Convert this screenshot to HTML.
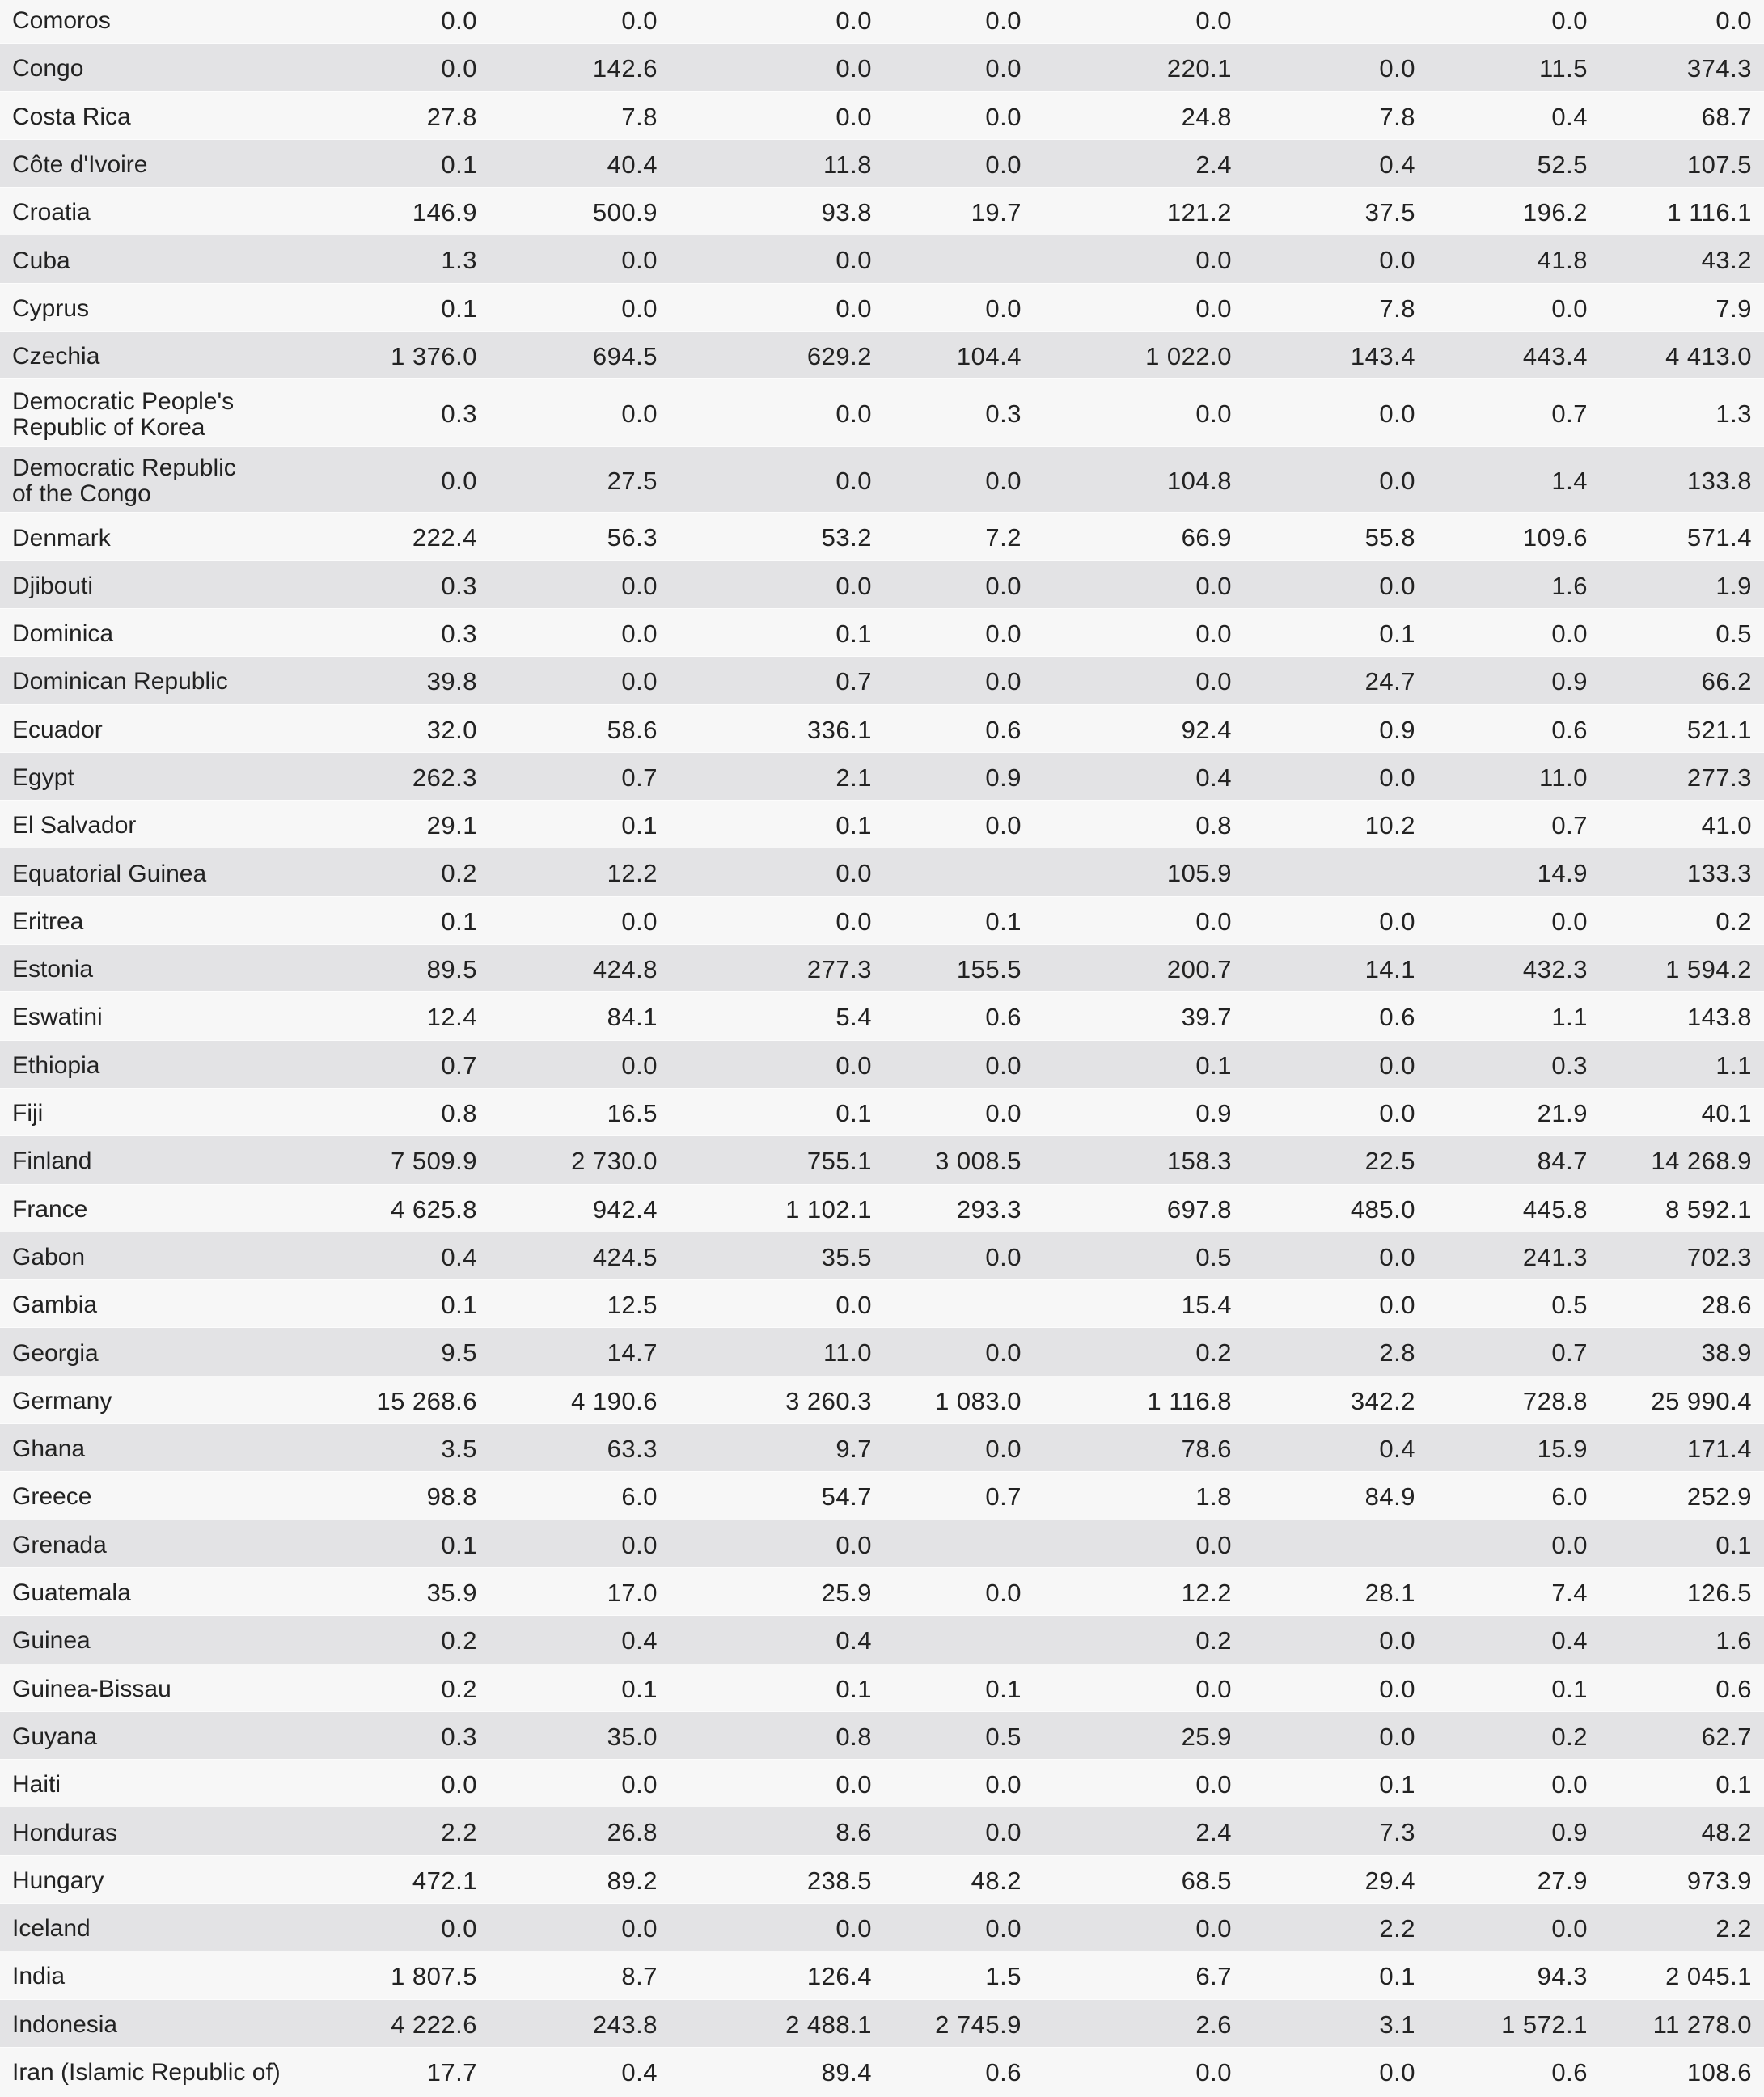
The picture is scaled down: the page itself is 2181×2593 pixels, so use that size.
<!DOCTYPE html>
<html>
<head>
<meta charset="utf-8">
<style>
html,body{margin:0;padding:0}
body{width:2181px;height:2593px;overflow:hidden;background:#f7f7f7;font-family:"Liberation Sans",sans-serif;color:#222;position:relative}
.t{position:absolute;top:-6px;left:0;width:2181px}
.r{position:relative;height:59.3px;background:#f7f7f7;box-shadow:inset 0 1px 0 #fcfcfc}
.d{background:#e3e3e5}
.r2{height:84px}
.r3{height:81px}
.n{position:absolute;left:15px;top:0;bottom:0;display:flex;align-items:center;font-size:30px;line-height:32px;padding-top:5px;white-space:nowrap}
.r span{position:absolute;top:2px;line-height:59.3px;font-size:31px;letter-spacing:0.5px;white-space:nowrap}
.r2 span{line-height:84px}
.r3 span{line-height:81px}
.r span:nth-of-type(1){right:1591px}
.r span:nth-of-type(2){right:1368px}
.r span:nth-of-type(3){right:1103px}
.r span:nth-of-type(4){right:918px}
.r span:nth-of-type(5){right:658px}
.r span:nth-of-type(6){right:431px}
.r span:nth-of-type(7){right:218px}
.r span:nth-of-type(8){right:15px}
</style>
</head>
<body>
<div class="t">
<div class="r"><div class="n">Comoros</div><span>0.0</span><span>0.0</span><span>0.0</span><span>0.0</span><span>0.0</span><span></span><span>0.0</span><span>0.0</span></div>
<div class="r d"><div class="n">Congo</div><span>0.0</span><span>142.6</span><span>0.0</span><span>0.0</span><span>220.1</span><span>0.0</span><span>11.5</span><span>374.3</span></div>
<div class="r"><div class="n">Costa Rica</div><span>27.8</span><span>7.8</span><span>0.0</span><span>0.0</span><span>24.8</span><span>7.8</span><span>0.4</span><span>68.7</span></div>
<div class="r d"><div class="n">Côte d'Ivoire</div><span>0.1</span><span>40.4</span><span>11.8</span><span>0.0</span><span>2.4</span><span>0.4</span><span>52.5</span><span>107.5</span></div>
<div class="r"><div class="n">Croatia</div><span>146.9</span><span>500.9</span><span>93.8</span><span>19.7</span><span>121.2</span><span>37.5</span><span>196.2</span><span>1 116.1</span></div>
<div class="r d"><div class="n">Cuba</div><span>1.3</span><span>0.0</span><span>0.0</span><span></span><span>0.0</span><span>0.0</span><span>41.8</span><span>43.2</span></div>
<div class="r"><div class="n">Cyprus</div><span>0.1</span><span>0.0</span><span>0.0</span><span>0.0</span><span>0.0</span><span>7.8</span><span>0.0</span><span>7.9</span></div>
<div class="r d"><div class="n">Czechia</div><span>1 376.0</span><span>694.5</span><span>629.2</span><span>104.4</span><span>1 022.0</span><span>143.4</span><span>443.4</span><span>4 413.0</span></div>
<div class="r r2"><div class="n">Democratic People's<br>Republic of Korea</div><span>0.3</span><span>0.0</span><span>0.0</span><span>0.3</span><span>0.0</span><span>0.0</span><span>0.7</span><span>1.3</span></div>
<div class="r r3 d"><div class="n">Democratic Republic<br>of the Congo</div><span>0.0</span><span>27.5</span><span>0.0</span><span>0.0</span><span>104.8</span><span>0.0</span><span>1.4</span><span>133.8</span></div>
<div class="r"><div class="n">Denmark</div><span>222.4</span><span>56.3</span><span>53.2</span><span>7.2</span><span>66.9</span><span>55.8</span><span>109.6</span><span>571.4</span></div>
<div class="r d"><div class="n">Djibouti</div><span>0.3</span><span>0.0</span><span>0.0</span><span>0.0</span><span>0.0</span><span>0.0</span><span>1.6</span><span>1.9</span></div>
<div class="r"><div class="n">Dominica</div><span>0.3</span><span>0.0</span><span>0.1</span><span>0.0</span><span>0.0</span><span>0.1</span><span>0.0</span><span>0.5</span></div>
<div class="r d"><div class="n">Dominican Republic</div><span>39.8</span><span>0.0</span><span>0.7</span><span>0.0</span><span>0.0</span><span>24.7</span><span>0.9</span><span>66.2</span></div>
<div class="r"><div class="n">Ecuador</div><span>32.0</span><span>58.6</span><span>336.1</span><span>0.6</span><span>92.4</span><span>0.9</span><span>0.6</span><span>521.1</span></div>
<div class="r d"><div class="n">Egypt</div><span>262.3</span><span>0.7</span><span>2.1</span><span>0.9</span><span>0.4</span><span>0.0</span><span>11.0</span><span>277.3</span></div>
<div class="r"><div class="n">El Salvador</div><span>29.1</span><span>0.1</span><span>0.1</span><span>0.0</span><span>0.8</span><span>10.2</span><span>0.7</span><span>41.0</span></div>
<div class="r d"><div class="n">Equatorial Guinea</div><span>0.2</span><span>12.2</span><span>0.0</span><span></span><span>105.9</span><span></span><span>14.9</span><span>133.3</span></div>
<div class="r"><div class="n">Eritrea</div><span>0.1</span><span>0.0</span><span>0.0</span><span>0.1</span><span>0.0</span><span>0.0</span><span>0.0</span><span>0.2</span></div>
<div class="r d"><div class="n">Estonia</div><span>89.5</span><span>424.8</span><span>277.3</span><span>155.5</span><span>200.7</span><span>14.1</span><span>432.3</span><span>1 594.2</span></div>
<div class="r"><div class="n">Eswatini</div><span>12.4</span><span>84.1</span><span>5.4</span><span>0.6</span><span>39.7</span><span>0.6</span><span>1.1</span><span>143.8</span></div>
<div class="r d"><div class="n">Ethiopia</div><span>0.7</span><span>0.0</span><span>0.0</span><span>0.0</span><span>0.1</span><span>0.0</span><span>0.3</span><span>1.1</span></div>
<div class="r"><div class="n">Fiji</div><span>0.8</span><span>16.5</span><span>0.1</span><span>0.0</span><span>0.9</span><span>0.0</span><span>21.9</span><span>40.1</span></div>
<div class="r d"><div class="n">Finland</div><span>7 509.9</span><span>2 730.0</span><span>755.1</span><span>3 008.5</span><span>158.3</span><span>22.5</span><span>84.7</span><span>14 268.9</span></div>
<div class="r"><div class="n">France</div><span>4 625.8</span><span>942.4</span><span>1 102.1</span><span>293.3</span><span>697.8</span><span>485.0</span><span>445.8</span><span>8 592.1</span></div>
<div class="r d"><div class="n">Gabon</div><span>0.4</span><span>424.5</span><span>35.5</span><span>0.0</span><span>0.5</span><span>0.0</span><span>241.3</span><span>702.3</span></div>
<div class="r"><div class="n">Gambia</div><span>0.1</span><span>12.5</span><span>0.0</span><span></span><span>15.4</span><span>0.0</span><span>0.5</span><span>28.6</span></div>
<div class="r d"><div class="n">Georgia</div><span>9.5</span><span>14.7</span><span>11.0</span><span>0.0</span><span>0.2</span><span>2.8</span><span>0.7</span><span>38.9</span></div>
<div class="r"><div class="n">Germany</div><span>15 268.6</span><span>4 190.6</span><span>3 260.3</span><span>1 083.0</span><span>1 116.8</span><span>342.2</span><span>728.8</span><span>25 990.4</span></div>
<div class="r d"><div class="n">Ghana</div><span>3.5</span><span>63.3</span><span>9.7</span><span>0.0</span><span>78.6</span><span>0.4</span><span>15.9</span><span>171.4</span></div>
<div class="r"><div class="n">Greece</div><span>98.8</span><span>6.0</span><span>54.7</span><span>0.7</span><span>1.8</span><span>84.9</span><span>6.0</span><span>252.9</span></div>
<div class="r d"><div class="n">Grenada</div><span>0.1</span><span>0.0</span><span>0.0</span><span></span><span>0.0</span><span></span><span>0.0</span><span>0.1</span></div>
<div class="r"><div class="n">Guatemala</div><span>35.9</span><span>17.0</span><span>25.9</span><span>0.0</span><span>12.2</span><span>28.1</span><span>7.4</span><span>126.5</span></div>
<div class="r d"><div class="n">Guinea</div><span>0.2</span><span>0.4</span><span>0.4</span><span></span><span>0.2</span><span>0.0</span><span>0.4</span><span>1.6</span></div>
<div class="r"><div class="n">Guinea-Bissau</div><span>0.2</span><span>0.1</span><span>0.1</span><span>0.1</span><span>0.0</span><span>0.0</span><span>0.1</span><span>0.6</span></div>
<div class="r d"><div class="n">Guyana</div><span>0.3</span><span>35.0</span><span>0.8</span><span>0.5</span><span>25.9</span><span>0.0</span><span>0.2</span><span>62.7</span></div>
<div class="r"><div class="n">Haiti</div><span>0.0</span><span>0.0</span><span>0.0</span><span>0.0</span><span>0.0</span><span>0.1</span><span>0.0</span><span>0.1</span></div>
<div class="r d"><div class="n">Honduras</div><span>2.2</span><span>26.8</span><span>8.6</span><span>0.0</span><span>2.4</span><span>7.3</span><span>0.9</span><span>48.2</span></div>
<div class="r"><div class="n">Hungary</div><span>472.1</span><span>89.2</span><span>238.5</span><span>48.2</span><span>68.5</span><span>29.4</span><span>27.9</span><span>973.9</span></div>
<div class="r d"><div class="n">Iceland</div><span>0.0</span><span>0.0</span><span>0.0</span><span>0.0</span><span>0.0</span><span>2.2</span><span>0.0</span><span>2.2</span></div>
<div class="r"><div class="n">India</div><span>1 807.5</span><span>8.7</span><span>126.4</span><span>1.5</span><span>6.7</span><span>0.1</span><span>94.3</span><span>2 045.1</span></div>
<div class="r d"><div class="n">Indonesia</div><span>4 222.6</span><span>243.8</span><span>2 488.1</span><span>2 745.9</span><span>2.6</span><span>3.1</span><span>1 572.1</span><span>11 278.0</span></div>
<div class="r"><div class="n">Iran (Islamic Republic of)</div><span>17.7</span><span>0.4</span><span>89.4</span><span>0.6</span><span>0.0</span><span>0.0</span><span>0.6</span><span>108.6</span></div>
</div>
</body>
</html>
